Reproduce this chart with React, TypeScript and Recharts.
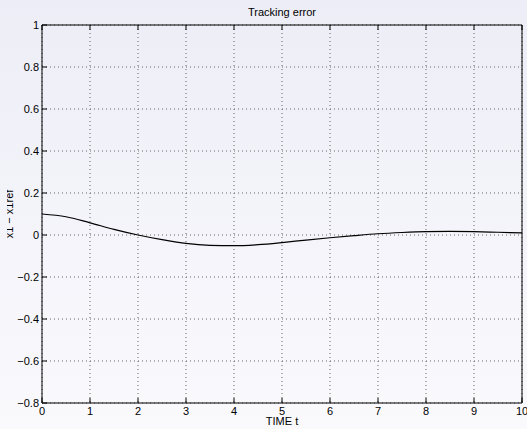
import React from "react";
import { CartesianGrid, Line, LineChart, XAxis, YAxis } from "recharts";

const timeT = [0, 0.5, 1, 1.5, 2, 2.5, 3, 3.5, 4, 4.5, 5, 5.5, 6, 6.5, 7, 7.5, 8, 8.5, 9, 9.5, 10];
const trackErr = [
  0.1, 0.087, 0.058, 0.027, 0.0, -0.022, -0.04, -0.049, -0.051, -0.046, -0.036, -0.024, -0.013,
  -0.003, 0.006, 0.012, 0.016, 0.017, 0.016, 0.013, 0.01,
];
const xTicks = [0, 1, 2, 3, 4, 5, 6, 7, 8, 9, 10];
const yTicks = [-0.8, -0.6, -0.4, -0.2, 0, 0.2, 0.4, 0.6, 0.8, 1];

const data = timeT.map((t, i) => ({ t, err: trackErr[i] }));

const FONT = "'Liberation Sans', Arial, Helvetica, sans-serif";
const TICK_LEN = 5;

const fmt = (v: number) => {
  const s = String(Math.round(v * 10) / 10);
  return s.replace("-", "\u2212");
};

// custom ticks: inward tick mark + label, positions come from the axis scale
function BottomTick({ x, y, payload }: any) {
  return (
    <g>
      <line x1={x} x2={x} y1={y} y2={y - TICK_LEN} stroke="#000" />
      <text x={x} y={y + 11.5} textAnchor="middle" fontSize={11} fontFamily={FONT} fill="#000">
        {payload.value}
      </text>
    </g>
  );
}

function TopTick({ x, y }: any) {
  return <line x1={x} x2={x} y1={y} y2={y + TICK_LEN} stroke="#000" />;
}

function LeftTick({ x, y, payload }: any) {
  return (
    <g>
      <line x1={x} x2={x + TICK_LEN} y1={y} y2={y} stroke="#000" />
      <text x={x - 3} y={y + 4} textAnchor="end" fontSize={11} fontFamily={FONT} fill="#000">
        {fmt(payload.value)}
      </text>
    </g>
  );
}

function RightTick({ x, y }: any) {
  return <line x1={x} x2={x - TICK_LEN} y1={y} y2={y} stroke="#000" />;
}

export default function App() {
  return (
    <div
      style={{
        position: "absolute",
        left: 0,
        top: 0,
        width: 527,
        height: 429,
        background: "linear-gradient(#ededf7, #fafafd)",
      }}
    >
      <LineChart
        width={527}
        height={429}
        data={data}
        margin={{ top: 24, right: 4, bottom: 25, left: 41 }}
      >
        <defs>
          <clipPath id="ylab-clip">
            <rect x={7} y={0} width={30} height={429} />
          </clipPath>
        </defs>
        <CartesianGrid stroke="#666" strokeDasharray="1 3" />
        <XAxis
          dataKey="t"
          type="number"
          domain={[0, 10]}
          ticks={xTicks}
          height={1}
          tickSize={0}
          tickMargin={0}
          tickLine={false}
          axisLine={{ stroke: "#000" }}
          tick={BottomTick}
          interval={0}
          label={{
            content: () => (
              <text x={282} y={425} textAnchor="middle" fontSize={11} fontFamily={FONT} fill="#000">
                TIME t
              </text>
            ),
          }}
        />
        <XAxis
          xAxisId="top"
          orientation="top"
          dataKey="t"
          type="number"
          domain={[0, 10]}
          ticks={xTicks}
          height={1}
          tickSize={0}
          tickMargin={0}
          tickLine={false}
          axisLine={{ stroke: "#000" }}
          tick={TopTick}
          interval={0}
          label={{
            content: () => (
              <text x={282} y={16} textAnchor="middle" fontSize={11} fontFamily={FONT} fill="#000">
                Tracking error
              </text>
            ),
          }}
        />
        <YAxis
          type="number"
          domain={[-0.8, 1]}
          ticks={yTicks}
          width={1}
          tickSize={0}
          tickMargin={0}
          tickLine={false}
          axisLine={{ stroke: "#000" }}
          tick={LeftTick}
          interval={0}
          label={{
            content: () => (
              <g clipPath="url(#ylab-clip)">
                <text
                  transform="translate(13,214) rotate(-90)"
                  textAnchor="middle"
                  fontSize={11}
                  fontFamily={FONT}
                  fill="#000"
                >
                  x1 {"\u2212"} x1ref
                </text>
              </g>
            ),
          }}
        />
        <YAxis
          yAxisId="r"
          orientation="right"
          type="number"
          domain={[-0.8, 1]}
          ticks={yTicks}
          width={1}
          tickSize={0}
          tickMargin={0}
          tickLine={false}
          axisLine={{ stroke: "#000" }}
          tick={RightTick}
          interval={0}
        />
        <Line
          type="monotone"
          dataKey="err"
          stroke="#000"
          strokeWidth={1.2}
          dot={false}
          isAnimationActive={false}
        />
      </LineChart>
    </div>
  );
}
